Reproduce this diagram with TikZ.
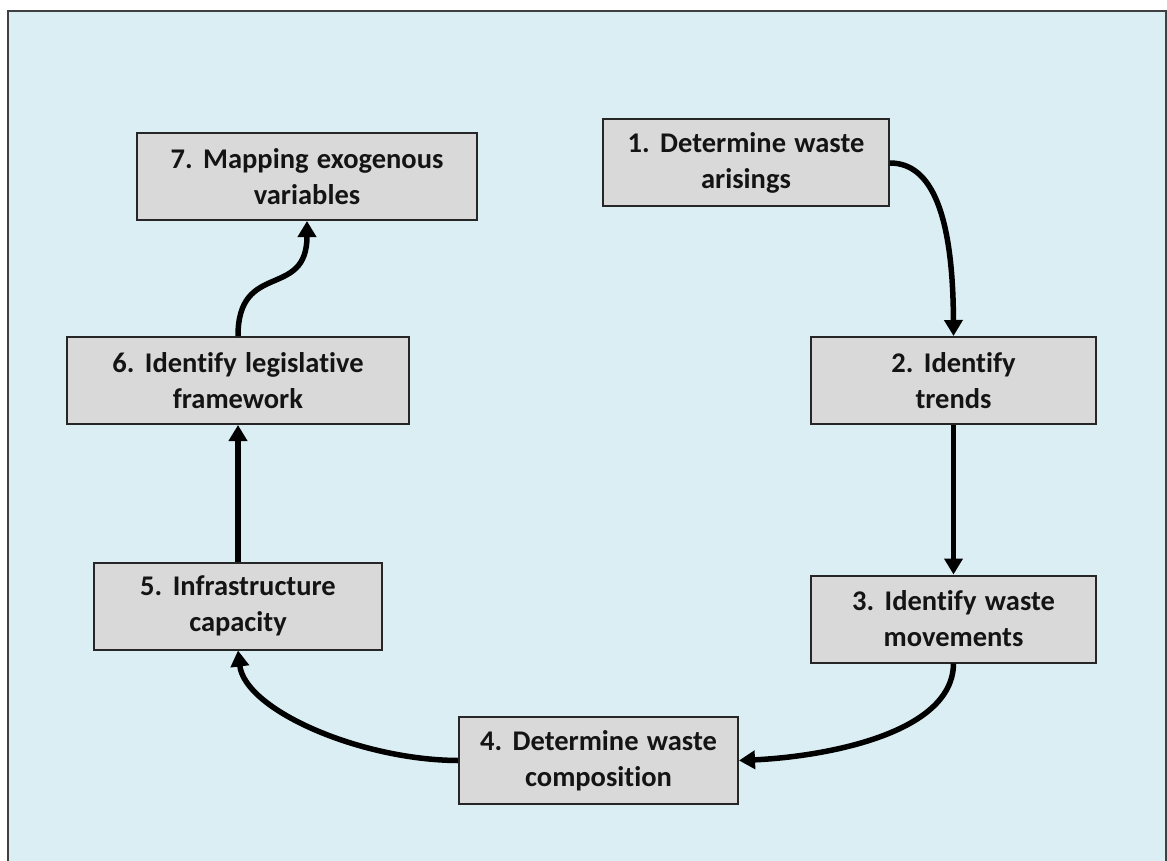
\documentclass[tikz,border=0pt]{standalone}
\usepackage{fontspec}
\setmainfont{Carlito}[Ligatures=NoCommon, WordSpace={1.3}]
\usetikzlibrary{arrows.meta}
\definecolor{panelblue}{HTML}{DAEEF3}
\definecolor{boxgray}{HTML}{D9D9D9}
\definecolor{frameedge}{HTML}{404040}
\definecolor{boxedge}{HTML}{262626}
\definecolor{inkblack}{HTML}{141414}
\tikzset{
  stagebox/.style={draw=boxedge, line width=2pt, fill=boxgray, align=center,
    font=\fontsize{28.5}{36}\selectfont\bfseries, text=inkblack,
    minimum height=87pt, inner sep=0pt},
  flow/.style={line width=5.5pt, draw=black,
    -{Triangle[length=16pt,width=18pt]}}
}
\begin{document}
\begin{tikzpicture}[x=1pt,y=-1pt]
  \useasboundingbox (0,0) rectangle (1167,861);
  % panel behind the cycle
  \filldraw[fill=panelblue, draw=frameedge, line width=2.5pt] (8,11) rectangle (1166,880);

  % the seven stages
  \node[stagebox, minimum width=286pt] (s1) at (746,163)   {1. Determine waste\\arisings};
  \node[stagebox, minimum width=285pt] (s2) at (953.5,380.5) {2. Identify\\trends};
  \node[stagebox, minimum width=285pt] (s3) at (953.5,619)   {3. Identify waste\\movements};
  \node[stagebox, minimum width=279pt] (s4) at (598.5,760.5) {4. Determine waste\\composition};
  \node[stagebox, minimum width=288pt] (s5) at (238,606)   {5. Infrastructure\\capacity};
  \node[stagebox, minimum width=342pt] (s6) at (238,380.5) {6. Identify legislative\\framework};
  \node[stagebox, minimum width=340pt] (s7) at (307,176.5) {7. Mapping exogenous\\variables};

  % connectors around the cycle
  \draw[flow] (s1.east) .. controls (932,163) and (953,215) .. (s2.north);
  \draw[flow] (s2.south) -- (s3.north);
  \draw[flow] (s3.south) .. controls (953,735) and (820,757) .. (s4.east);
  \draw[flow] (s4.west) .. controls (360,760) and (245,710) .. (s5.south);
  \draw[flow] (s5.north) -- (s6.south);
  \draw[flow] (s6.north) .. controls (238,260) and (307,300) .. (s7.south);
\end{tikzpicture}
\end{document}
